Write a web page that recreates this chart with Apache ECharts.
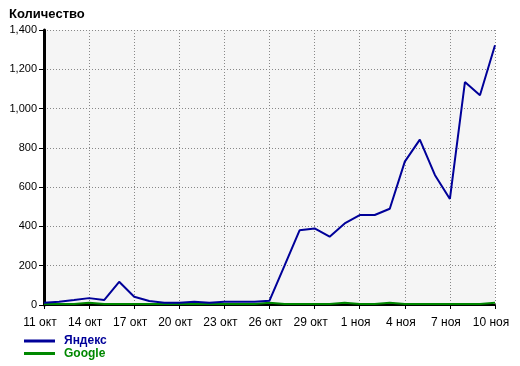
<!DOCTYPE html>
<html><head><meta charset="utf-8">
<script src="https://cdn.jsdelivr.net/npm/echarts@6/dist/echarts.min.js"></script>
<style>html,body{margin:0;padding:0;background:#fff}#c{width:520px;height:366px}</style>
</head><body><div id="c"></div>
<script>
const categories = ["11 окт","12 окт","13 окт","14 окт","15 окт","16 окт","17 окт","18 окт","19 окт","20 окт","21 окт","22 окт","23 окт","24 окт","25 окт","26 окт","27 окт","28 окт","29 окт","30 окт","31 окт","1 ноя","2 ноя","3 ноя","4 ноя","5 ноя","6 ноя","7 ноя","8 ноя","9 ноя","10 ноя"];
const yandex = [12,17,25,35,25,118,42,20,12,12,16,12,16,16,16,22,200,380,390,348,415,458,458,490,730,842,662,540,1135,1068,1322];
const google = [5,5,5,12,5,5,5,5,5,5,5,5,5,5,5,12,5,5,5,5,12,5,5,12,5,5,5,5,5,5,12];
const yTicks = [0,200,400,600,800,1000,1200,1400];
const seriesNames = ["Яндекс","Google"];
const colors = ["#000099","#008800"];

const chart = echarts.init(document.getElementById('c'), null, {renderer:'canvas'});
const font = 'Liberation Sans, Arial, sans-serif';
chart.setOption({
  animation:false,
  backgroundColor:'#fff',
  title:{text:'Количество', left:4, top:3, textStyle:{fontFamily:font, fontSize:13, fontWeight:'bold', color:'#000'}},
  grid:{left:44, right:25, top:30, bottom:61, show:true, backgroundColor:'#f5f5f5', borderWidth:0},
  legend:{
    orient:'vertical', left:24, top:335, padding:0, itemWidth:31, itemHeight:3, itemGap:0.5, icon:'rect',
    data:[
      {name:seriesNames[0], textStyle:{color:colors[0]}},
      {name:seriesNames[1], textStyle:{color:colors[1]}}
    ],
    textStyle:{fontFamily:font, fontSize:12, fontWeight:'bold', padding:[0,0,0,4]}
  },
  xAxis:{
    type:'category', data:categories, boundaryGap:false,
    axisLine:{lineStyle:{color:'#000', width:2}},
    axisTick:{interval:2, length:4, lineStyle:{color:'#000'}},
    axisLabel:{interval:2, color:'#000', fontFamily:font, fontSize:12, margin:12, padding:[0,8,0,0]},
    splitLine:{show:true, interval:2, lineStyle:{color:'#888', type:[1,2], width:1}}
  },
  yAxis:{
    type:'value', min:yTicks[0], max:yTicks[yTicks.length-1], interval:200,
    axisLine:{show:true, lineStyle:{color:'#000', width:3}},
    axisTick:{show:true, length:5, lineStyle:{color:'#000'}},
    axisLabel:{color:'#000', fontFamily:font, fontSize:11, margin:7,
      formatter:v=>v.toLocaleString('en-US')},
    splitLine:{show:true, lineStyle:{color:'#888', type:[1,2], width:1}}
  },
  series:[
    {name:seriesNames[1], type:'line', data:google, symbol:'none', lineStyle:{color:colors[1], width:2}, itemStyle:{color:colors[1]}},
    {name:seriesNames[0], type:'line', data:yandex, symbol:'none', lineStyle:{color:colors[0], width:2}, itemStyle:{color:colors[0]}}
  ]
});
</script></body></html>
